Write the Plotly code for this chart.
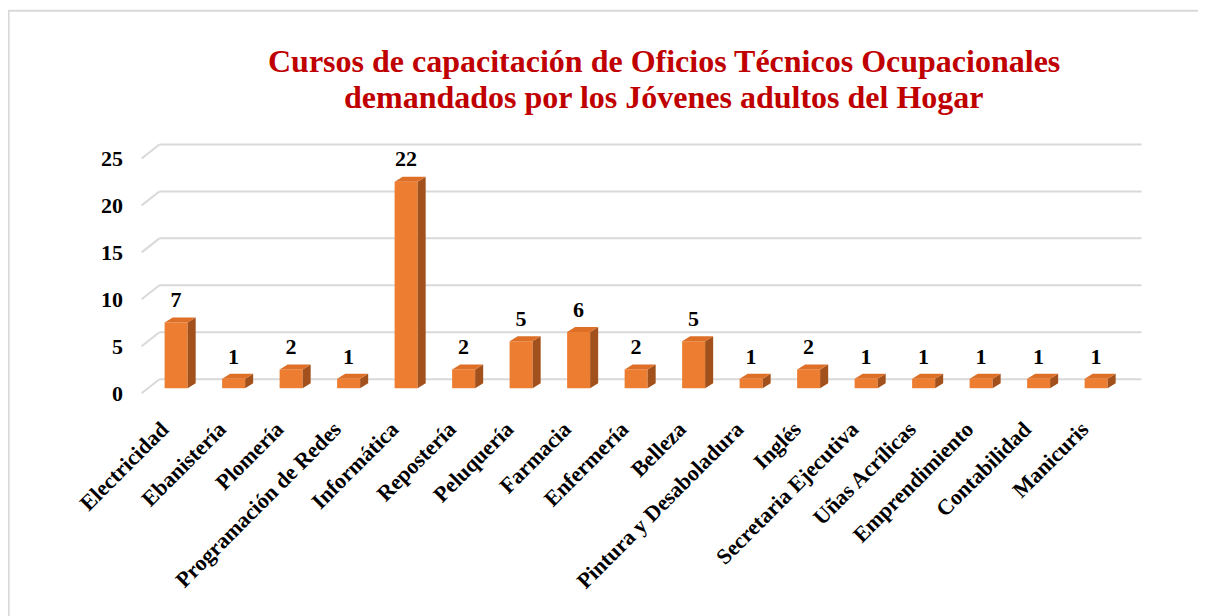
import plotly.graph_objects as go

categories = ["Electricidad", "Ebanistería", "Plomería", "Programación de Redes",
              "Informática", "Repostería", "Peluquería", "Farmacia", "Enfermería",
              "Belleza", "Pintura y Desaboladura", "Inglés", "Secretaria Ejecutiva",
              "Uñas Acrílicas", "Emprendimiento", "Contabilidad", "Manicuris"]
values = [7, 1, 2, 1, 22, 2, 5, 6, 2, 5, 1, 2, 1, 1, 1, 1, 1]
y_ticks = [0, 5, 10, 15, 20, 25]

title_lines = ["Cursos de capacitación de Oficios Técnicos Ocupacionales",
               "demandados por los Jóvenes adultos del Hogar"]

# pseudo-3D geometry (axis units)
BAR_W = 0.40
BASE = 0.53          # bar front sits slightly behind the front plane
DX = 0.14            # bar depth (x)
DY = 0.53            # bar depth (y)
WALL_DY = 1.49       # back wall offset (y)
WALL_X0 = -0.29      # back wall left edge
WALL_X1 = 16.79      # back wall right edge
FRONT_X0 = -0.60     # front edge of side wall

FRONT = "#ED7D31"
TOP = "#DE6F27"
SIDE = "#A3511C"
GRID = "#D9D9D9"

xs = list(range(len(categories)))

fig = go.Figure()

# side faces
sx, sy = [], []
for i, v in zip(xs, values):
    r = i + BAR_W / 2
    sx += [r, r + DX, r + DX, r, r, None]
    sy += [BASE, BASE + DY, BASE + v + DY, BASE + v, BASE, None]
fig.add_trace(go.Scatter(x=sx, y=sy, mode="lines", fill="toself", fillcolor=SIDE,
                         line=dict(width=0, color=SIDE), hoverinfo="skip", showlegend=False))
# top faces
tx, ty = [], []
for i, v in zip(xs, values):
    l, r = i - BAR_W / 2, i + BAR_W / 2
    top = BASE + v
    tx += [l, r, r + DX, l + DX, l, None]
    ty += [top, top, top + DY, top + DY, top, None]
fig.add_trace(go.Scatter(x=tx, y=ty, mode="lines", fill="toself", fillcolor=TOP,
                         line=dict(width=0, color=TOP), hoverinfo="skip", showlegend=False))
# front faces
fig.add_trace(go.Bar(x=xs, y=values, base=BASE, width=BAR_W,
                     marker=dict(color=FRONT, line=dict(width=0)), showlegend=False))
# data labels
fig.add_trace(go.Scatter(x=xs, y=[BASE + v + DY + 0.5 for v in values], mode="text",
                         text=[str(v) for v in values], textposition="top center",
                         texttemplate="<b>%{text}</b>",
                         textfont=dict(family="Liberation Serif", size=22, color="black"),
                         cliponaxis=False, hoverinfo="skip", showlegend=False))

shapes = []
for t in y_ticks:
    shapes.append(dict(type="line", xref="x", yref="y", x0=WALL_X0, x1=WALL_X1,
                       y0=t + WALL_DY, y1=t + WALL_DY, line=dict(color=GRID, width=2), layer="below"))
    shapes.append(dict(type="line", xref="x", yref="y", x0=FRONT_X0, x1=WALL_X0,
                       y0=t, y1=t + WALL_DY, line=dict(color=GRID, width=2), layer="below"))
# chart frame
shapes.append(dict(type="rect", xref="paper", yref="paper", x0=-0.1229, x1=1.2,
                   y0=-1.2, y1=1.4765, line=dict(color=GRID, width=2)))

annotations = []
for txt, yy in zip(title_lines, [1.2851, 1.1473]):
    annotations.append(dict(text="<b>%s</b>" % txt, xref="paper", yref="paper",
                            x=0.5243, y=yy, xanchor="center", yanchor="middle",
                            showarrow=False,
                            font=dict(family="Liberation Serif", size=32, color="#C00000")))

fig.update_layout(
    width=1206, height=616, autosize=False,
    paper_bgcolor="white", plot_bgcolor="white",
    margin=dict(l=125.4, r=68.6, t=126.5, b=228.2),
    font=dict(family="Liberation Serif", color="black"),
    shapes=shapes, annotations=annotations,
    xaxis=dict(range=[-0.75, 16.85], tickmode="array", tickvals=xs,
               ticktext=["<b>%s</b>" % c for c in categories], tickangle=-45,
               tickfont=dict(family="Liberation Serif", size=22, color="black"),
               showgrid=False, zeroline=False, showline=False, ticks="",
               ticklabelstandoff=15, ticklabelshift=-14, automargin=False),
    yaxis=dict(range=[-0.3, 27.5], tickmode="array", tickvals=y_ticks,
               ticktext=["<b>%d</b>" % t for t in y_ticks],
               tickfont=dict(family="Liberation Serif", size=22, color="black"),
               showgrid=False, zeroline=False, showline=False, ticks="",
               ticklabelstandoff=9, automargin=False),
)

fig.write_html("out.html")
